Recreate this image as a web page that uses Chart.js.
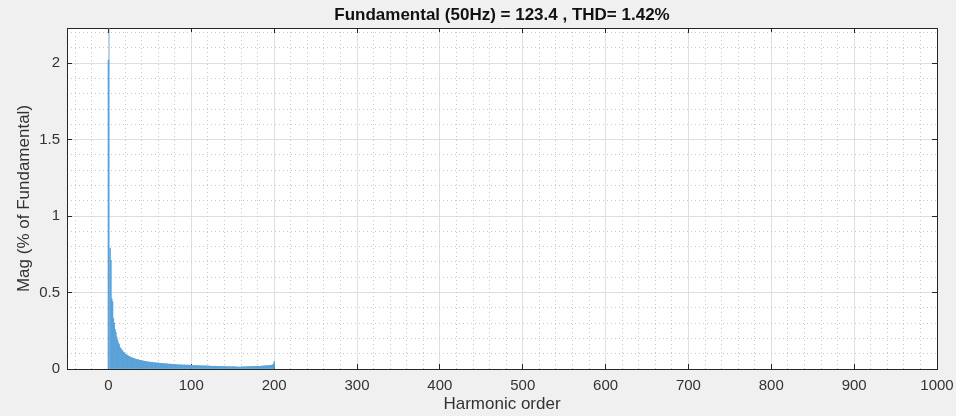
<!DOCTYPE html>
<html>
<head>
<meta charset="utf-8">
<title>Harmonic spectrum</title>
<script src="https://cdn.jsdelivr.net/npm/chart.js@4/dist/chart.umd.min.js"></script>
<style>
  html, body { margin: 0; padding: 0; background: #f0f0f0; }
  canvas { display: block; }
</style>
</head>
<body>
<canvas id="fftChart" width="956" height="416"></canvas>
<script>
const chartTitle = 'Fundamental (50Hz) = 123.4 , THD= 1.42%';
const xTitle = 'Harmonic order';
const yTitle = 'Mag (% of Fundamental)';

// magnitude of each harmonic, % of fundamental (index = harmonic order, 0 = DC)
const magnitude = [
  2.02, 100, 0.79, 0.71, 0.46, 0.44, 0.33, 0.30, 0.26, 0.24,
  0.21, 0.19, 0.17, 0.16, 0.14, 0.135, 0.125, 0.12, 0.11, 0.105,
  0.100, 0.096, 0.092, 0.089, 0.085, 0.082, 0.079, 0.077, 0.074, 0.072,
  0.070, 0.068, 0.066, 0.064, 0.063, 0.061, 0.060, 0.058, 0.057, 0.056,
  0.054, 0.053, 0.052, 0.051, 0.050, 0.049, 0.048, 0.047, 0.046, 0.046,
  0.045, 0.044, 0.043, 0.043, 0.042, 0.041, 0.041, 0.040, 0.040, 0.039,
  0.038, 0.038, 0.037, 0.037, 0.036, 0.036, 0.035, 0.035, 0.034, 0.034,
  0.033, 0.033, 0.032, 0.032, 0.032, 0.031, 0.031, 0.030, 0.030, 0.030,
  0.029, 0.029, 0.029, 0.028, 0.028, 0.028, 0.027, 0.027, 0.027, 0.026,
  0.026, 0.026, 0.026, 0.025, 0.025, 0.025, 0.025, 0.024, 0.024, 0.024,
  0.024, 0.023, 0.023, 0.023, 0.023, 0.022, 0.022, 0.022, 0.022, 0.021,
  0.021, 0.021, 0.021, 0.021, 0.020, 0.020, 0.020, 0.020, 0.020, 0.019,
  0.019, 0.019, 0.019, 0.019, 0.018, 0.018, 0.018, 0.018, 0.018, 0.018,
  0.017, 0.017, 0.017, 0.017, 0.017, 0.017, 0.016, 0.016, 0.016, 0.016,
  0.016, 0.016, 0.016, 0.015, 0.015, 0.015, 0.015, 0.015, 0.015, 0.015,
  0.015, 0.014, 0.014, 0.014, 0.014, 0.013, 0.013, 0.012, 0.012, 0.013,
  0.013, 0.014, 0.014, 0.014, 0.014, 0.015, 0.015, 0.015, 0.015, 0.015,
  0.015, 0.016, 0.016, 0.016, 0.016, 0.016, 0.017, 0.017, 0.017, 0.017,
  0.017, 0.018, 0.018, 0.018, 0.018, 0.019, 0.019, 0.019, 0.020, 0.020,
  0.020, 0.021, 0.021, 0.022, 0.022, 0.023, 0.024, 0.025, 0.027, 0.031,
  0.048
];
const harmonicOrder = magnitude.map((v, h) => h);

const xRange = [-50, 1000];
const yRange = [0, 2.23];
const xMajorStep = 100, xMinorStep = 20;
const yMajorStep = 0.5, yMinorStep = 0.1;

const FONT = "'Liberation Sans', Arial, Helvetica, sans-serif";
const AXIS_COLOR = '#262626';
const MAJOR_GRID = '#dfdfdf';
const MINOR_GRID = '#c6c6c6';
const BAR_COLOR = '#5aa2d8';

// white plot box on the grey figure background
const plotBackground = {
  id: 'plotBackground',
  beforeDraw(chart) {
    const {ctx, chartArea: a} = chart;
    ctx.save();
    ctx.fillStyle = '#ffffff';
    ctx.fillRect(a.left, a.top, a.right - a.left, a.bottom - a.top);
    ctx.restore();
  }
};

function isMultiple(v, step) {
  return Math.abs(v / step - Math.round(v / step)) < 1e-6;
}

// plain tick text: 0, 0.5, 1, 1.5 ... 1000
function plainNumber(value) {
  return String(Math.round(value * 100) / 100);
}

// minor dotted grid lives on hidden twin axes
function minorAxis(position, range, step, major) {
  return {
    type: 'linear',
    position: position,
    min: range[0],
    max: range[1],
    offset: false,
    ticks: { display: false, stepSize: step, includeBounds: false },
    grid: {
      offset: false,
      drawTicks: false,
      color: c => (c.tick && isMultiple(c.tick.value, major)) ? 'rgba(0,0,0,0)' : MINOR_GRID,
      borderDash: [1, 3]
    },
    border: { display: false, dash: [1, 3] },
    afterFit(scale) {
      if (scale.isHorizontal()) scale.height = 0; else scale.width = 0;
      scale.paddingLeft = scale.paddingRight = 0;
    }
  };
}

function initChart() {
  const ctx = document.getElementById('fftChart').getContext('2d');
  const points = harmonicOrder.map((h, i) => ({ x: h, y: magnitude[i] }));

  return new Chart(ctx, {
    type: 'bar',
    data: {
      datasets: [{
        label: 'Mag',
        data: points,
        backgroundColor: c => c.dataIndex === 1 ? 'rgba(90,162,216,0.45)' : BAR_COLOR,
        borderWidth: 0,
        barPercentage: 1,
        categoryPercentage: 1
      }]
    },
    options: {
      responsive: false,
      animation: false,
      devicePixelRatio: 1,
      layout: { padding: 0 },
      plugins: {
        legend: { display: false },
        tooltip: { enabled: false },
        title: {
          display: true,
          text: chartTitle,
          color: '#111111',
          fullSize: false,
          font: { family: FONT, size: 17, weight: 'bold' },
          padding: { top: 5, bottom: 2.6 }
        }
      },
      scales: {
        x: {
          type: 'linear',
          position: 'bottom',
          min: xRange[0],
          max: xRange[1],
          offset: false,
          ticks: {
            stepSize: xMajorStep,
            includeBounds: false,
            autoSkip: false,
            maxRotation: 0,
            color: '#333333',
            padding: 13,
            font: { family: FONT, size: 15 },
            callback: plainNumber
          },
          grid: { offset: false, color: MAJOR_GRID, tickColor: AXIS_COLOR, tickLength: -5 },
          border: { color: AXIS_COLOR, width: 1 },
          title: {
            display: true,
            text: xTitle,
            color: '#333333',
            font: { family: FONT, size: 17 },
            padding: { top: 0, bottom: 1 }
          },
          afterFit(scale) {
            scale.height = 47;
            scale.paddingLeft = scale.paddingRight = 0;
          }
        },
        y: {
          type: 'linear',
          position: 'left',
          min: yRange[0],
          max: yRange[1],
          ticks: {
            stepSize: yMajorStep,
            includeBounds: false,
            color: '#333333',
            padding: 12,
            font: { family: FONT, size: 15 },
            callback: plainNumber
          },
          grid: { color: MAJOR_GRID, tickColor: AXIS_COLOR, tickLength: -5 },
          border: { color: AXIS_COLOR, width: 1 },
          title: {
            display: true,
            text: yTitle,
            color: '#333333',
            font: { family: FONT, size: 17 },
            padding: { top: 14, bottom: 0 }
          },
          afterFit(scale) {
            scale.width = 67;
            scale.paddingTop = scale.paddingBottom = 0;
          }
        },
        xTop: {
          type: 'linear',
          position: 'top',
          min: xRange[0],
          max: xRange[1],
          offset: false,
          ticks: { display: false, stepSize: xMajorStep, includeBounds: false },
          grid: { offset: false, drawOnChartArea: false, tickColor: AXIS_COLOR, tickLength: -5 },
          border: { color: AXIS_COLOR, width: 1 },
          afterFit(scale) {
            scale.height = 0;
            scale.paddingLeft = scale.paddingRight = 0;
          }
        },
        yRight: {
          type: 'linear',
          position: 'right',
          min: yRange[0],
          max: yRange[1],
          ticks: { display: false, stepSize: yMajorStep, includeBounds: false },
          grid: { drawOnChartArea: false, tickColor: AXIS_COLOR, tickLength: -5 },
          border: { color: AXIS_COLOR, width: 1 },
          afterFit(scale) { scale.width = 19; }
        },
        xMinor: minorAxis('bottom', xRange, xMinorStep, xMajorStep),
        yMinor: minorAxis('left', yRange, yMinorStep, yMajorStep)
      }
    },
    plugins: [plotBackground]
  });
}

document.addEventListener('DOMContentLoaded', function() {
  initChart();
});
</script>
</body>
</html>
